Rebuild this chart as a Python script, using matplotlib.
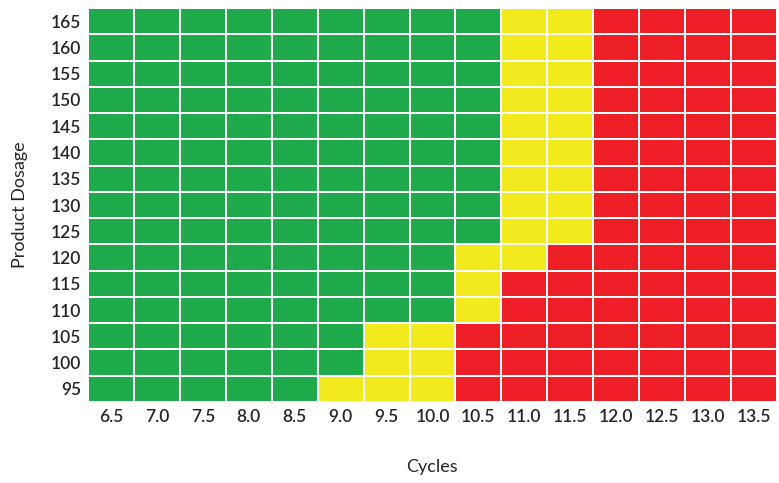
import matplotlib
matplotlib.use("Agg")
import matplotlib.pyplot as plt
from matplotlib.colors import ListedColormap, BoundaryNorm
import numpy as np

cycles = ["6.5", "7.0", "7.5", "8.0", "8.5", "9.0", "9.5", "10.0",
          "10.5", "11.0", "11.5", "12.0", "12.5", "13.0", "13.5"]
dosages = ["95", "100", "105", "110", "115", "120", "125", "130",
           "135", "140", "145", "150", "155", "160", "165"]

# 0 = green, 1 = yellow, 2 = red ; rows bottom (95) to top (165)
row_95  = [0, 0, 0, 0, 0, 1, 1, 1, 2, 2, 2, 2, 2, 2, 2]
row_100 = [0, 0, 0, 0, 0, 0, 1, 1, 2, 2, 2, 2, 2, 2, 2]
row_105 = [0, 0, 0, 0, 0, 0, 1, 1, 2, 2, 2, 2, 2, 2, 2]
row_110 = [0, 0, 0, 0, 0, 0, 0, 0, 1, 2, 2, 2, 2, 2, 2]
row_115 = [0, 0, 0, 0, 0, 0, 0, 0, 1, 2, 2, 2, 2, 2, 2]
row_120 = [0, 0, 0, 0, 0, 0, 0, 0, 1, 1, 2, 2, 2, 2, 2]
row_125 = [0, 0, 0, 0, 0, 0, 0, 0, 0, 1, 1, 2, 2, 2, 2]
row_130 = [0, 0, 0, 0, 0, 0, 0, 0, 0, 1, 1, 2, 2, 2, 2]
row_135 = [0, 0, 0, 0, 0, 0, 0, 0, 0, 1, 1, 2, 2, 2, 2]
row_140 = [0, 0, 0, 0, 0, 0, 0, 0, 0, 1, 1, 2, 2, 2, 2]
row_145 = [0, 0, 0, 0, 0, 0, 0, 0, 0, 1, 1, 2, 2, 2, 2]
row_150 = [0, 0, 0, 0, 0, 0, 0, 0, 0, 1, 1, 2, 2, 2, 2]
row_155 = [0, 0, 0, 0, 0, 0, 0, 0, 0, 1, 1, 2, 2, 2, 2]
row_160 = [0, 0, 0, 0, 0, 0, 0, 0, 0, 1, 1, 2, 2, 2, 2]
row_165 = [0, 0, 0, 0, 0, 0, 0, 0, 0, 1, 1, 2, 2, 2, 2]

grid = np.array([row_95, row_100, row_105, row_110, row_115, row_120, row_125,
                 row_130, row_135, row_140, row_145, row_150, row_155,
                 row_160, row_165])

colors = ["#1FAA4B", "#F2EA1C", "#EE1F26"]
cmap = ListedColormap(colors)
norm = BoundaryNorm([-0.5, 0.5, 1.5, 2.5], cmap.N)

plt.rcParams['font.family'] = ['Lato', 'DejaVu Sans']

W, H = 779, 483
fig = plt.figure(figsize=(W/100, H/100), dpi=100)
ax = fig.add_axes([88/W, 1 - 402/H, (777-88)/W, (402-8)/H])
ax.pcolormesh(grid, cmap=cmap, norm=norm, edgecolors="white", linewidth=1.3)

ax.set_xticks(np.arange(len(cycles)) + 0.5)
ax.set_xticklabels(cycles)
ax.set_yticks(np.arange(len(dosages)) + 0.5)
ax.set_yticklabels(dosages)
ax.set_xlim(0, len(cycles))
ax.set_ylim(0, len(dosages))
ax.tick_params(length=0, labelsize=12.5, colors="#262626", pad=5)
for lbl in ax.get_xticklabels() + ax.get_yticklabels():
    lbl.set_fontweight("semibold")
for s in ax.spines.values():
    s.set_visible(False)

fig.text(432/W, 1 - 467/H, "Cycles", fontsize=13, color="#262626",
         ha="center", va="center")
fig.text(20/W, 1 - 205/H, "Product Dosage", fontsize=13, color="#262626",
         ha="center", va="center", rotation=90)

fig.savefig("out.png", dpi=100)
